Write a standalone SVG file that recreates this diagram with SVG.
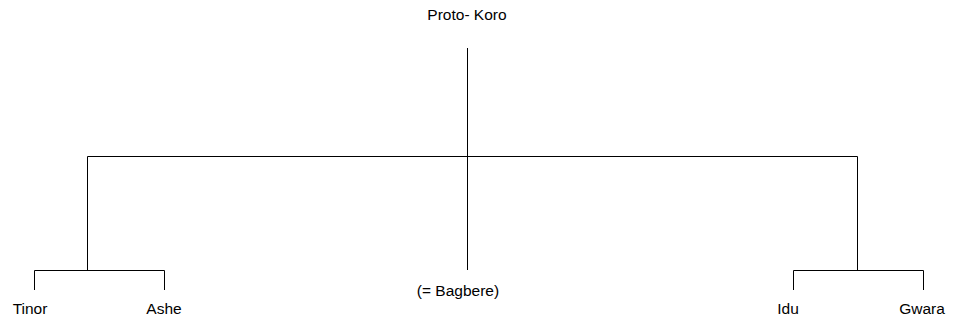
<svg xmlns="http://www.w3.org/2000/svg" width="954" height="320" viewBox="0 0 954 320">
<style>
text{font-family:"Liberation Sans",Arial,sans-serif;font-size:15.5px;fill:#000;text-anchor:middle}
.c{fill:none;stroke:#000;stroke-width:1}
</style>
<rect width="954" height="320" fill="#fff"/>
<g id="connectors">
<path class="c" d="M467.5,48V270"/>
<path class="c" d="M87.5,270V156.5H857.5V270"/>
<path class="c" d="M34.5,290V270.5H164.5V290"/>
<path class="c" d="M793.5,290V270.5H923.5V290"/>
</g>
<g id="proto"><text x="467" y="20">Proto- Koro</text></g>
<g id="tinor"><text x="30" y="314">Tinor</text></g>
<g id="ashe"><text x="164" y="314">Ashe</text></g>
<g id="bagbere"><text x="458" y="296">(= Bagbere)</text></g>
<g id="idu"><text x="788" y="314">Idu</text></g>
<g id="gwara"><text x="922" y="314">Gwara</text></g>
</svg>
